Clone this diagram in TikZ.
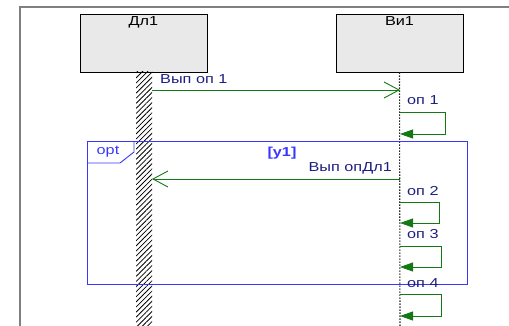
\documentclass[tikz,border=0pt]{standalone}
\usepackage{fontspec}
\setmainfont{Liberation Sans}[FakeStretch=1.25]
\usetikzlibrary{arrows.meta,patterns.meta,positioning}
\definecolor{msggreen}{RGB}{20,120,20}
\definecolor{lbltext}{RGB}{30,30,130}
\definecolor{optblue}{RGB}{55,55,255}
\definecolor{boxgray}{RGB}{232,233,232}
\definecolor{framegray}{RGB}{128,128,128}
\begin{document}
\begin{tikzpicture}[x=1pt,y=-1pt,font=\fontsize{13}{15}\selectfont,
    obj/.style={draw=black,fill=boxgray,line width=0.8pt,minimum width=127pt,minimum height=58pt,inner sep=0pt},
    msg/.style={draw=msggreen,line width=0.9pt,-{Straight Barb[length=15pt,width=16pt,line width=0.9pt]}},
    selfmsg/.style={draw=msggreen,line width=0.9pt,-{Triangle[length=13pt,width=9pt]}},
    lbl/.style={text=lbltext,inner sep=0pt}]
  \useasboundingbox (0,0) rectangle (509,326);
  \draw[framegray,line width=1.3pt] (20,326) -- (20,7) -- (509,7);
  \node[obj] (dl1) at (143.5,43) {};
  \node[obj] (vi1) at (399.5,43) {};
  \node[anchor=north,inner sep=0pt] at (143.5,16) {Дл1};
  \node[anchor=north,inner sep=0pt] at (399.5,16) {Ви1};
  \fill[pattern={Lines[angle=45,distance=3.6pt,line width=0.8pt]}] (136,72) rectangle (152,326);
  \draw[dash pattern=on 1.5pt off 1.5pt,line width=1.1pt,black!85] (vi1.south) -- (400,326);
  \begin{scope}[draw=optblue,line width=0.9pt]
    \draw (87,141) rectangle (467,284);
    \draw (87,163) -- (120,163) -- (134,152) -- (134,141);
  \end{scope}
  \node[text=optblue] (opt) at (108,152) {opt};
  \node[text=optblue,font=\fontsize{13}{15}\selectfont\bfseries] (cond) at (282,153) {[у1]};
  \coordinate (m1a) at (152,90);
  \coordinate (m1b) at (400,90);
  \coordinate (m2a) at (400,179);
  \coordinate (m2b) at (152,179);
  \draw[msg] (m1a) -- (m1b);
  \draw[msg] (m2a) -- (m2b);
  \node[lbl,anchor=west] at (160,79) {Вып оп 1};
  \node[lbl,anchor=east] at (392,168) {Вып опДл1};
  \coordinate (s1a) at (400,112);
  \coordinate (s1b) at (400,134);
  \coordinate (s2a) at (400,202);
  \coordinate (s2b) at (400,223);
  \coordinate (s3a) at (400,246);
  \coordinate (s3b) at (400,267);
  \coordinate (s4a) at (400,294);
  \coordinate (s4b) at (400,316);
  \draw[selfmsg] (s1a) -- ++(45,0) |- (s1b);
  \draw[selfmsg] (s2a) -- ++(39,0) |- (s2b);
  \draw[selfmsg] (s3a) -- ++(41,0) |- (s3b);
  \draw[selfmsg] (s4a) -- ++(41,0) |- (s4b);
  \node[lbl,anchor=west] at (407,100) {оп 1};
  \node[lbl,anchor=west] at (407,191) {оп 2};
  \node[lbl,anchor=west] at (407,234) {оп 3};
  \node[lbl,anchor=west] at (407,283) {оп 4};
\end{tikzpicture}
\end{document}
